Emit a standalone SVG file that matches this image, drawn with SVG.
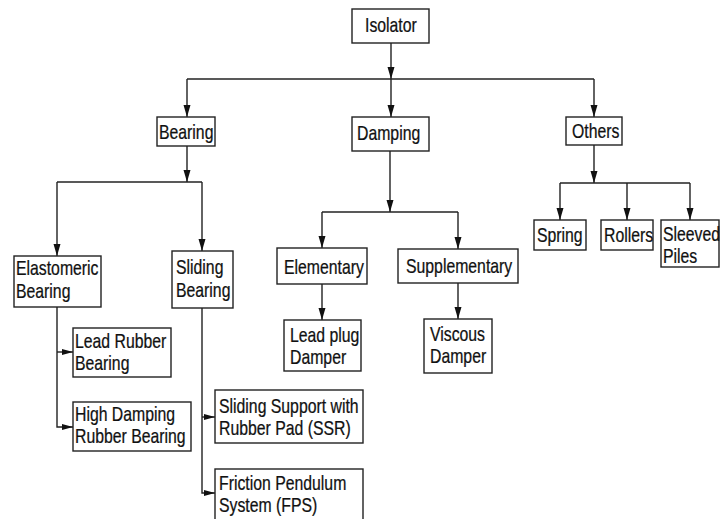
<svg xmlns="http://www.w3.org/2000/svg" width="728" height="519" viewBox="0 0 728 519">
<style>
.box{fill:#fff;stroke:#222;stroke-width:1.4}
.lbl{font-family:"Liberation Sans",Arial,sans-serif;font-size:20px;fill:#111;stroke:#111;stroke-width:0.25}
.ln{fill:none;stroke:#222;stroke-width:1.4}
</style>
<defs>
<marker id="ah" markerUnits="userSpaceOnUse" markerWidth="13" markerHeight="8" refX="12" refY="3.5" orient="auto">
<path d="M0,0 L12,3.5 L0,7 z" fill="#111"/>
</marker>
<marker id="ahs" markerUnits="userSpaceOnUse" markerWidth="12" markerHeight="8" refX="11" refY="3" orient="auto">
<path d="M0,0 L11,3 L0,6 z" fill="#111"/>
</marker>
</defs>
<rect width="728" height="519" fill="#fff"/>
<g id="connectors">
<path class="ln" d="M391,43 V79" marker-end="url(#ah)"/>
<path class="ln" d="M187,79 H594"/>
<path class="ln" d="M187,79 V117" marker-end="url(#ah)"/>
<path class="ln" d="M391,79 V117" marker-end="url(#ah)"/>
<path class="ln" d="M594,79 V117" marker-end="url(#ah)"/>
<path class="ln" d="M187,146 V182" marker-end="url(#ah)"/>
<path class="ln" d="M57,182 H202"/>
<path class="ln" d="M57,182 V256" marker-end="url(#ah)"/>
<path class="ln" d="M202,182 V251" marker-end="url(#ah)"/>
<path class="ln" d="M390,151 V212" marker-end="url(#ah)"/>
<path class="ln" d="M322,212 H458"/>
<path class="ln" d="M322,212 V248" marker-end="url(#ah)"/>
<path class="ln" d="M458,212 V249" marker-end="url(#ah)"/>
<path class="ln" d="M594,145 V183" marker-end="url(#ah)"/>
<path class="ln" d="M560,183 H690"/>
<path class="ln" d="M560,183 V220" marker-end="url(#ah)"/>
<path class="ln" d="M627,183 V220" marker-end="url(#ah)"/>
<path class="ln" d="M690,183 V220" marker-end="url(#ah)"/>
<path class="ln" d="M322,284 V320" marker-end="url(#ah)"/>
<path class="ln" d="M458,283 V319" marker-end="url(#ah)"/>
<path class="ln" d="M57,307 V427 H73" marker-end="url(#ahs)"/>
<path class="ln" d="M57,352 H73" marker-end="url(#ahs)"/>
<path class="ln" d="M202,308 V493 H215" marker-end="url(#ahs)"/>
<path class="ln" d="M202,417 H215" marker-end="url(#ahs)"/>
</g>
<g id="isolator">
<rect class="box" x="352" y="9" width="77" height="34"/>
<text class="lbl" transform="translate(365,32) scale(0.79,1)">Isolator</text>
</g>
<g id="bearing">
<rect class="box" x="157" y="117" width="58" height="29"/>
<text class="lbl" transform="translate(159,139) scale(0.79,1)">Bearing</text>
</g>
<g id="damping">
<rect class="box" x="352" y="117" width="77" height="34"/>
<text class="lbl" transform="translate(357,140) scale(0.79,1)">Damping</text>
</g>
<g id="others">
<rect class="box" x="566" y="117" width="56" height="28"/>
<text class="lbl" transform="translate(572,138) scale(0.79,1)">Others</text>
</g>
<g id="spring">
<rect class="box" x="534" y="220" width="52" height="30"/>
<text class="lbl" transform="translate(537,242) scale(0.79,1)">Spring</text>
</g>
<g id="rollers">
<rect class="box" x="601" y="220" width="52" height="30"/>
<text class="lbl" transform="translate(604,242) scale(0.79,1)">Rollers</text>
</g>
<g id="sleeved-piles">
<rect class="box" x="661" y="220" width="58" height="47"/>
<text class="lbl" transform="translate(663,241) scale(0.79,1)"><tspan x="0" y="0">Sleeved</tspan><tspan x="0" y="22">Piles</tspan></text>
</g>
<g id="elastomeric-bearing">
<rect class="box" x="14" y="256" width="87" height="51"/>
<text class="lbl" transform="translate(16,275) scale(0.79,1)"><tspan x="0" y="0">Elastomeric</tspan><tspan x="0" y="23">Bearing</tspan></text>
</g>
<g id="sliding-bearing">
<rect class="box" x="172" y="251" width="61" height="57"/>
<text class="lbl" transform="translate(176,274) scale(0.79,1)"><tspan x="0" y="0">Sliding</tspan><tspan x="0" y="23">Bearing</tspan></text>
</g>
<g id="elementary">
<rect class="box" x="277" y="248" width="90" height="36"/>
<text class="lbl" transform="translate(284,274) scale(0.79,1)">Elementary</text>
</g>
<g id="supplementary">
<rect class="box" x="398" y="249" width="120" height="34"/>
<text class="lbl" transform="translate(406,273) scale(0.79,1)">Supplementary</text>
</g>
<g id="lead-plug-damper">
<rect class="box" x="284" y="320" width="77" height="51"/>
<text class="lbl" transform="translate(290,342) scale(0.79,1)"><tspan x="0" y="0">Lead plug</tspan><tspan x="0" y="22">Damper</tspan></text>
</g>
<g id="viscous-damper">
<rect class="box" x="424" y="319" width="68" height="54"/>
<text class="lbl" transform="translate(430,341) scale(0.79,1)"><tspan x="0" y="0">Viscous</tspan><tspan x="0" y="22">Damper</tspan></text>
</g>
<g id="lead-rubber-bearing">
<rect class="box" x="73" y="328" width="98" height="49"/>
<text class="lbl" transform="translate(75,348) scale(0.79,1)"><tspan x="0" y="0">Lead Rubber</tspan><tspan x="0" y="22">Bearing</tspan></text>
</g>
<g id="high-damping-rubber-bearing">
<rect class="box" x="73" y="402" width="118" height="49"/>
<text class="lbl" transform="translate(75,421) scale(0.79,1)"><tspan x="0" y="0">High Damping</tspan><tspan x="0" y="22">Rubber Bearing</tspan></text>
</g>
<g id="ssr">
<rect class="box" x="215" y="390" width="148" height="53"/>
<text class="lbl" transform="translate(219,413) scale(0.79,1)"><tspan x="0" y="0">Sliding Support with</tspan><tspan x="0" y="22">Rubber Pad (SSR)</tspan></text>
</g>
<g id="fps">
<rect class="box" x="215" y="469" width="148" height="56"/>
<text class="lbl" transform="translate(219,490) scale(0.79,1)"><tspan x="0" y="0">Friction Pendulum</tspan><tspan x="0" y="22">System (FPS)</tspan></text>
</g>
</svg>
